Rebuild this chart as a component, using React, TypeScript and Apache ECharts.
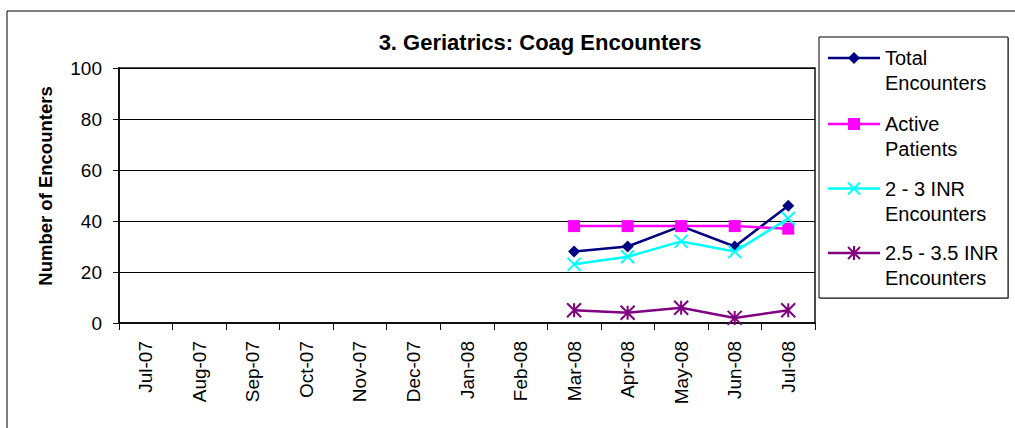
import React, { useEffect, useRef } from "react";
import * as echarts from "echarts";

const categories = ["Jul-07", "Aug-07", "Sep-07", "Oct-07", "Nov-07", "Dec-07", "Jan-08", "Feb-08", "Mar-08", "Apr-08", "May-08", "Jun-08", "Jul-08"];
const totalEncounters = [null, null, null, null, null, null, null, null, 28, 30, 38, 30, 46];
const activePatients = [null, null, null, null, null, null, null, null, 38, 38, 38, 38, 37];
const inr23 = [null, null, null, null, null, null, null, null, 23, 26, 32, 28, 41];
const inr2535 = [null, null, null, null, null, null, null, null, 5, 4, 6, 2, 5];
const yTicks = { min: 0, max: 100, interval: 20 };

const FONT = "'Liberation Sans', Arial, sans-serif";
const NAVY = "#000080";
const MAGENTA = "#FF00FF";
const CYAN = "#00FFFF";
const PURPLE = "#800080";
const X_SYM = "path://M0,0L10,10M10,0L0,10";
const AST_SYM = "path://M0,0L10,10M10,0L0,10M5,0L5,10";

function legendItem(y: number, color: string, kind: string, line1: string, line2: string) {
  const cx = 854;
  const els: any[] = [
    { type: "line", shape: { x1: 828, y1: y, x2: 880, y2: y }, style: { stroke: color, lineWidth: 2.5 } },
  ];
  if (kind === "diamond") {
    els.push({ type: "polygon", shape: { points: [[cx, y - 6], [cx + 6, y], [cx, y + 6], [cx - 6, y]] }, style: { fill: color } });
  } else if (kind === "square") {
    els.push({ type: "rect", shape: { x: cx - 6, y: y - 6, width: 12, height: 12 }, style: { fill: color } });
  } else {
    const s = 6;
    els.push({ type: "line", shape: { x1: cx - s, y1: y - s, x2: cx + s, y2: y + s }, style: { stroke: color, lineWidth: 2 } });
    els.push({ type: "line", shape: { x1: cx + s, y1: y - s, x2: cx - s, y2: y + s }, style: { stroke: color, lineWidth: 2 } });
    if (kind === "asterisk") {
      els.push({ type: "line", shape: { x1: cx, y1: y - s - 1, x2: cx, y2: y + s + 1 }, style: { stroke: color, lineWidth: 2 } });
    }
  }
  els.push({ type: "text", x: 885, y: y, style: { text: line1, font: `20px ${FONT}`, fill: "#000", align: "left", verticalAlign: "middle" } });
  els.push({ type: "text", x: 885, y: y + 25, style: { text: line2, font: `20px ${FONT}`, fill: "#000", align: "left", verticalAlign: "middle" } });
  return els;
}

export default function App() {
  const ref = useRef<HTMLDivElement>(null);
  useEffect(() => {
    if (!ref.current) return;
    const chart = echarts.init(ref.current, null, { renderer: "svg" });
    const lineSeries = (name: string, data: any[], color: string, symbol: string, size: number) => ({
      name,
      type: "line",
      data,
      symbol,
      symbolSize: size,
      connectNulls: false,
      lineStyle: { color, width: 2.5 },
      itemStyle: { color, borderColor: color, borderWidth: symbol.startsWith("path") ? 2 : 0 },
      z: 5,
    });
    chart.setOption({
      animation: false,
      backgroundColor: "#fff",
      textStyle: { fontFamily: FONT },
      grid: { left: 119, right: 200, top: 68, bottom: 105, show: true, borderColor: "#111", borderWidth: 1.5 },
      xAxis: {
        type: "category",
        data: categories,
        boundaryGap: true,
        axisLine: { lineStyle: { color: "#111", width: 2 } },
        axisTick: { show: true, length: 7, inside: false, lineStyle: { color: "#111" } },
        axisLabel: { rotate: 90, interval: 0, margin: 18, fontSize: 19, color: "#000", fontFamily: FONT },
        splitLine: { show: false },
      },
      yAxis: {
        type: "value",
        min: yTicks.min,
        max: yTicks.max,
        interval: yTicks.interval,
        axisLine: { show: true, lineStyle: { color: "#111", width: 2 } },
        axisTick: { show: true, length: 6, lineStyle: { color: "#111" } },
        axisLabel: { margin: 17, fontSize: 19, color: "#000", fontFamily: FONT },
        splitLine: { show: true, lineStyle: { color: "#000", width: 1 } },
      },
      series: [
        lineSeries("Total Encounters", totalEncounters, NAVY, "diamond", 12),
        lineSeries("Active Patients", activePatients, MAGENTA, "rect", 12),
        lineSeries("2 - 3 INR Encounters", inr23, CYAN, X_SYM, 13),
        lineSeries("2.5 - 3.5 INR Encounters", inr2535, PURPLE, AST_SYM, 14),
      ],
      graphic: [
        { type: "rect", shape: { x: 7, y: 11, width: 1200, height: 600 }, style: { fill: "none", stroke: "#000", lineWidth: 1 }, silent: true, z: -10 },
        { type: "text", x: 540, y: 42, style: { text: "3. Geriatrics: Coag Encounters", font: `bold 22px ${FONT}`, fill: "#000", align: "center", verticalAlign: "middle" } },
        { type: "text", x: 45, y: 186, rotation: Math.PI / 2, style: { text: "Number of Encounters", font: `bold 18.5px ${FONT}`, fill: "#000", align: "center", verticalAlign: "middle" } },
        { type: "rect", shape: { x: 820, y: 38, width: 189, height: 261 }, style: { fill: "#999", stroke: "none" } },
        { type: "rect", shape: { x: 819, y: 37, width: 189, height: 261 }, style: { fill: "#fff", stroke: "#000", lineWidth: 1 } },
        ...legendItem(58, NAVY, "diamond", "Total", "Encounters"),
        ...legendItem(124, MAGENTA, "square", "Active", "Patients"),
        ...legendItem(188.5, CYAN, "x", "2 - 3 INR", "Encounters"),
        ...legendItem(253, PURPLE, "asterisk", "2.5 - 3.5 INR", "Encounters"),
      ],
    });
    return () => chart.dispose();
  }, []);
  return <div ref={ref} style={{ position: "absolute", left: 0, top: 0, width: 1015, height: 428 }} />;
}
